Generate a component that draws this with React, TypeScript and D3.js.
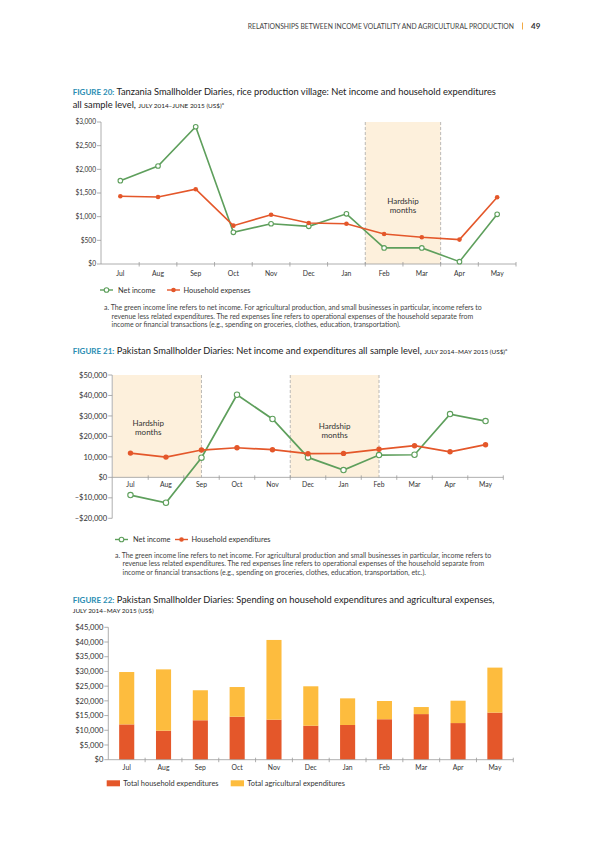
import * as d3 from 'd3'

const FONT = 'Lato, "Open Sans", sans-serif'
const GREEN = '#5e9f5c'
const RED = '#e4572a'
const YELLOW = '#fdbc3e'
const BAND = '#fdf0dc'
const AXIS = '#9a9a9a'
const TEXT = '#333'
const TEAL = '#2a8db3'

const months = ['Jul', 'Aug', 'Sep', 'Oct', 'Nov', 'Dec', 'Jan', 'Feb', 'Mar', 'Apr', 'May']

// Figure 20 - Tanzania
const tzNetIncome = [1760, 2070, 2900, 670, 850, 795, 1060, 340, 340, 50, 1050]
const tzExpenses = [1430, 1415, 1580, 810, 1040, 865, 850, 635, 565, 515, 1410]
const tzTicks = [0, 500, 1000, 1500, 2000, 2500, 3000]

// Figure 21 - Pakistan
const pkNetIncome = [-8650, -12400, 9600, 40350, 28500, 9750, 3550, 10900, 11050, 30900, 27500]
const pkExpenses = [11850, 9900, 13350, 14450, 13500, 11550, 11700, 13700, 15450, 12500, 15950]
const pkTicks = [-20000, -10000, 0, 10000, 20000, 30000, 40000, 50000]
const pkTickLabels = ['–$20,000', '–$10,000', '$0', '10,000', '$20,000', '$30,000', '$40,000', '$50,000']

// Figure 22 - Pakistan spending
const household = [12000, 9850, 13400, 14600, 13600, 11550, 11800, 13750, 15500, 12450, 16000]
const agricultural = [17800, 20850, 10200, 10100, 27100, 13400, 9050, 6200, 2400, 7600, 15300]
const barTicks = [0, 5000, 10000, 15000, 20000, 25000, 30000, 35000, 40000, 45000]

const fmt = d3.format('$,')

type Span = { x0: number; x1: number; dashLeft: boolean; labelX: number; labelY: number }

function LineChart(props: {
  xRange: [number, number]
  yDomain: [number, number]
  yRange: [number, number]
  ticks: number[]
  labels: string[]
  tickFont: number
  income: number[]
  expenses: number[]
  spans: (x: d3.ScaleBand<string>) => Span[]
  xLabelY: number
  r: number
  sw: number
}) {
  const x = d3.scaleBand<string>().domain(months).range(props.xRange)
  const y = d3.scaleLinear().domain(props.yDomain).range(props.yRange)
  const bw = x.bandwidth()
  const cx = (m: string) => (x(m) as number) + bw / 2
  const line = d3.line<number>().x((_, i) => cx(months[i])).y(d => y(d))
  const top = y(props.yDomain[1])
  const zero = y(0)
  const axisX = props.xRange[0] - 0.5
  const spans = props.spans(x)
  return (
    <g>
      {spans.map((s, i) => (
        <g key={i}>
          <rect x={s.x0} y={top} width={s.x1 - s.x0} height={zero - top} fill={BAND} />
          {s.dashLeft && <line x1={s.x0} x2={s.x0} y1={top} y2={zero} stroke="#a9a9a9" strokeWidth={0.8} strokeDasharray="3,2" />}
          <line x1={s.x1} x2={s.x1} y1={top} y2={zero} stroke="#a9a9a9" strokeWidth={0.8} strokeDasharray="3,2" />
          <text x={s.labelX} y={s.labelY} textAnchor="middle" fontSize={8} fill={TEXT}>
            <tspan x={s.labelX} dy={0}>Hardship</tspan>
            <tspan x={s.labelX} dy={8.8}>months</tspan>
          </text>
        </g>
      ))}
      <line x1={axisX} x2={axisX} y1={y(props.yDomain[0])} y2={top} stroke={AXIS} strokeWidth={0.8} />
      {props.ticks.map((t, i) => (
        <g key={t}>
          <line x1={axisX - 4} x2={axisX} y1={y(t)} y2={y(t)} stroke={AXIS} strokeWidth={0.8} />
          <text x={axisX - 5} y={y(t)} dy="0.35em" textAnchor="end" fontSize={props.tickFont} fill={TEXT}>{props.labels[i]}</text>
        </g>
      ))}
      <line x1={axisX} x2={props.xRange[1]} y1={zero} y2={zero} stroke={AXIS} strokeWidth={0.8} />
      {months.map(m => (
        <g key={m}>
          <line x1={(x(m) as number) + bw} x2={(x(m) as number) + bw} y1={zero - 2} y2={zero + 2.5} stroke={AXIS} strokeWidth={0.8} />
          <text x={cx(m)} y={props.xLabelY} textAnchor="middle" fontSize={6.8} fill={TEXT}>{m}</text>
        </g>
      ))}
      <path d={line(props.income) || ''} fill="none" stroke={GREEN} strokeWidth={props.sw} />
      <path d={line(props.expenses) || ''} fill="none" stroke={RED} strokeWidth={props.sw} />
      {props.income.map((v, i) => (
        <circle key={'g' + i} cx={cx(months[i])} cy={y(v)} r={props.r} fill="#fff" stroke={GREEN} strokeWidth={1.1} />
      ))}
      {props.expenses.map((v, i) => (
        <circle key={'r' + i} cx={cx(months[i])} cy={y(v)} r={props.r} fill={RED} />
      ))}
    </g>
  )
}

function LineLegend({ x, y, names }: { x: number[]; y: number; names: string[] }) {
  return (
    <g fontSize={7.4} fill={TEXT}>
      <line x1={x[0]} x2={x[0] + 13} y1={y} y2={y} stroke={GREEN} strokeWidth={1.4} />
      <circle cx={x[0] + 6.5} cy={y} r={2.3} fill="#fff" stroke={GREEN} strokeWidth={1.1} />
      <text x={x[0] + 18} y={y} dy="0.35em">{names[0]}</text>
      <line x1={x[1]} x2={x[1] + 13} y1={y} y2={y} stroke={RED} strokeWidth={1.4} />
      <circle cx={x[1] + 6.5} cy={y} r={2.3} fill={RED} />
      <text x={x[1] + 16.5} y={y} dy="0.35em">{names[1]}</text>
    </g>
  )
}

function Footnote({ x, y, lines }: { x: number; y: number; lines: string[] }) {
  return (
    <g fontSize={6.95} fill="#444">
      {lines.map((l, i) => (
        <text key={i} x={i === 0 ? x : x + 7.5} y={y + i * 8.6}>{l}</text>
      ))}
    </g>
  )
}

function BarChart() {
  const x = d3.scaleBand<string>().domain(months).range([108.3, 513.3])
  const y = d3.scaleLinear().domain([0, 45000]).range([759.7, 627.3])
  const bw = x.bandwidth()
  const barW = bw * 0.41
  const stacked = d3.stack<number>().keys(['household', 'agricultural'])
    .value((i, k) => (k === 'household' ? household[i] : agricultural[i]))(months.map((_, i) => i))
  const colors = [RED, YELLOW]
  const axisX = 108.3
  return (
    <g>
      {stacked.map((layer, li) => layer.map((d, i) => (
        <rect key={li + '-' + i} x={(x(months[i]) as number) + (bw - barW) / 2} y={y(d[1])} width={barW} height={y(d[0]) - y(d[1])} fill={colors[li]} />
      )))}
      <line x1={axisX} x2={axisX} y1={y(0)} y2={y(45000)} stroke={AXIS} strokeWidth={0.8} />
      {barTicks.map(t => (
        <g key={t}>
          <line x1={axisX - 4} x2={axisX} y1={y(t)} y2={y(t)} stroke={AXIS} strokeWidth={0.8} />
          <text x={axisX - 5} y={y(t)} dy="0.35em" textAnchor="end" fontSize={7.6} fill={TEXT}>{fmt(t)}</text>
        </g>
      ))}
      <line x1={axisX} x2={513.3} y1={y(0)} y2={y(0)} stroke={AXIS} strokeWidth={0.8} />
      {months.map(m => (
        <g key={m}>
          <line x1={(x(m) as number) + bw} x2={(x(m) as number) + bw} y1={y(0) - 2} y2={y(0) + 2.5} stroke={AXIS} strokeWidth={0.8} />
          <text x={(x(m) as number) + bw / 2} y={770} textAnchor="middle" fontSize={6.8} fill={TEXT}>{m}</text>
        </g>
      ))}
      <g fontSize={7.4} fill={TEXT}>
        <rect x={106.7} y={780.3} width={13.3} height={6} fill={RED} />
        <text x={123.3} y={783.3} dy="0.35em">Total household expenditures</text>
        <rect x={230.7} y={780.3} width={13.3} height={6} fill={YELLOW} />
        <text x={247.3} y={783.3} dy="0.35em">Total agricultural expenditures</text>
      </g>
    </g>
  )
}

function Title({ x, y, num, text, small, sup }: { x: number; y: number; num: string; text: string; small?: string; sup?: boolean }) {
  return (
    <text x={x} y={y} fontSize={9.3} fill="#222">
      <tspan fill={TEAL} fontSize={8} fontWeight={700}>{num}</tspan>
      <tspan>{text}</tspan>
      {small && <tspan fontSize={6.4}>{small}</tspan>}
      {sup && <tspan fontSize={4.5} dy={-3}>a</tspan>}
    </text>
  )
}

export default function App() {
  return (
    <svg width={600} height={848} style={{ position: 'absolute', left: 0, top: 0, background: '#fff' }} fontFamily={FONT}>
      <text x={514} y={28.5} textAnchor="end" fontSize={6.8} fill="#444">RELATIONSHIPS BETWEEN INCOME VOLATILITY AND AGRICULTURAL PRODUCTION</text>
      <line x1={522.5} x2={522.5} y1={22.5} y2={29.5} stroke="#f0a030" strokeWidth={0.9} />
      <text x={531} y={28.8} fontSize={8} fontWeight={700} fill="#333">49</text>

      <Title x={72.7} y={95} num="FIGURE 20:" text=" Tanzania Smallholder Diaries, rice production village: Net income and household expenditures" />
      <Title x={72.7} y={108} num="" text="all sample level, " small="JULY 2014–JUNE 2015 (US$)" sup />

      <LineChart
        xRange={[101.5, 516]}
        yDomain={[0, 3000]}
        yRange={[264, 122]}
        ticks={tzTicks}
        labels={tzTicks.map(t => fmt(t))}
        tickFont={6.6}
        income={tzNetIncome}
        expenses={tzExpenses}
        spans={x => [{
          x0: x('Feb') as number,
          x1: (x('Mar') as number) + x.bandwidth(),
          dashLeft: true,
          labelX: ((x('Feb') as number) + (x('Mar') as number) + x.bandwidth()) / 2,
          labelY: 204,
        }]}
        xLabelY={275.5}
        r={2.3}
        sw={1.6}
      />
      <LineLegend x={[100, 167]} y={290} names={['Net income', 'Household expenses']} />
      <Footnote x={104} y={310} lines={[
        'a. The green income line refers to net income. For agricultural production, and small businesses in particular, income refers to',
        'revenue less related expenditures. The red expenses line refers to operational expenses of the household separate from',
        'income or financial transactions (e.g., spending on groceries, clothes, education, transportation).',
      ]} />

      <Title x={72.7} y={354} num="FIGURE 21:" text=" Pakistan Smallholder Diaries: Net income and expenditures all sample level, " small="JULY 2014–MAY 2015 (US$)" sup />

      <LineChart
        xRange={[112.7, 503.3]}
        yDomain={[-20000, 50000]}
        yRange={[518.3, 375]}
        ticks={pkTicks}
        labels={pkTickLabels}
        tickFont={7.6}
        income={pkNetIncome}
        expenses={pkExpenses}
        spans={x => {
          const bw = x.bandwidth()
          const a0 = x('Jul') as number
          const a1 = (x('Sep') as number) + bw / 2
          const b0 = x('Dec') as number
          const b1 = (x('Feb') as number) + bw / 2
          return [
            { x0: a0, x1: a1, dashLeft: false, labelX: x('Aug') as number, labelY: 426 },
            { x0: b0, x1: b1, dashLeft: true, labelX: (b0 + b1) / 2, labelY: 429.3 },
          ]
        }}
        xLabelY={486.5}
        r={2.7}
        sw={1.7}
      />
      <LineLegend x={[115, 175]} y={539.5} names={['Net income', 'Household expenditures']} />
      <Footnote x={115} y={557.5} lines={[
        'a. The green income line refers to net income. For agricultural production and small businesses in particular, income refers to',
        'revenue less related expenditures. The red expenses line refers to operational expenses of the household separate from',
        'income or financial transactions (e.g., spending on groceries, clothes, education, transportation, etc.).',
      ]} />

      <Title x={72.7} y={602.5} num="FIGURE 22:" text=" Pakistan Smallholder Diaries: Spending on household expenditures and agricultural expenses," />
      <Title x={72.7} y={613} num="" text="" small="JULY 2014–MAY 2015 (US$)" />

      <BarChart />
    </svg>
  )
}
